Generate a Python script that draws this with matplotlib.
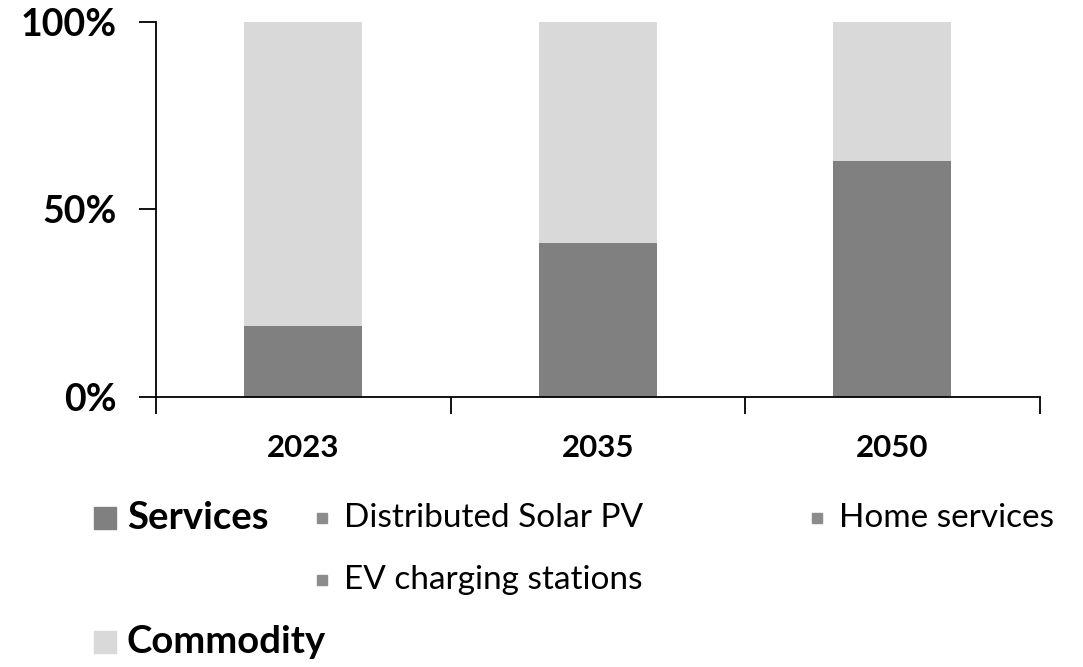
import matplotlib
matplotlib.use("Agg")
import matplotlib.pyplot as plt
from matplotlib.patches import Rectangle
import numpy as np

plt.rcParams['font.family'] = ['Lato', 'DejaVu Sans']

years = ['2023', '2035', '2050']
services = [19, 41, 63]
commodity = [100 - s for s in services]
service_items = ['Distributed Solar PV', 'Home services', 'EV charging stations']

dark = '#808080'
light = '#d9d9d9'

fig = plt.figure(figsize=(10.83, 6.67), dpi=100)
ax = fig.add_axes([0.144, 0.405, 0.816, 0.562])

x = np.arange(len(years))
ax.bar(x, services, width=0.4, color=dark)
ax.bar(x, commodity, width=0.4, bottom=services, color=light)

ax.set_xlim(-0.5, len(years) - 0.5)
ax.set_ylim(0, 100)
ax.set_yticks([0, 50, 100])
ax.set_yticklabels(['0%', '50%', '100%'], fontsize=27, fontweight='bold')
ax.set_xticks(np.arange(-0.5, len(years)), labels=[])
ax.set_xticks(x, labels=years, minor=True)
ax.tick_params(axis='x', which='minor', length=0, pad=27, labelsize=22.5)
for lab in ax.get_xticklabels(minor=True):
    lab.set_fontweight('bold')
ax.tick_params(axis='both', which='major', length=12, width=1.3, direction='out')
ax.tick_params(axis='y', pad=16)
ax.spines['top'].set_visible(False)
ax.spines['right'].set_visible(False)
ax.spines['left'].set_linewidth(1.3)
ax.spines['bottom'].set_linewidth(1.3)

# custom legend
W, H = 1083, 667

def square(px, py, size, color):
    fig.patches.append(Rectangle((px / W, 1 - (py + size) / H), size / W, size / H,
                                 transform=fig.transFigure, color=color))

def label(px, py, text, **kw):
    fig.text(px / W, 1 - py / H, text, va='center', ha='left', **kw)

square(94, 507, 22, dark)
label(127, 518, 'Services', fontsize=27.5, fontweight='bold')
square(94, 631, 22, light)
label(127, 642, 'Commodity', fontsize=27.5, fontweight='bold')

item_pos = [(317, 518), (812, 518), (317, 580)]
for (px, py), name in zip(item_pos, service_items):
    square(px, py - 5, 10, '#8c8c8c')
    label(px + 27, py, name, fontsize=24)

fig.savefig('out.png', dpi=100)
